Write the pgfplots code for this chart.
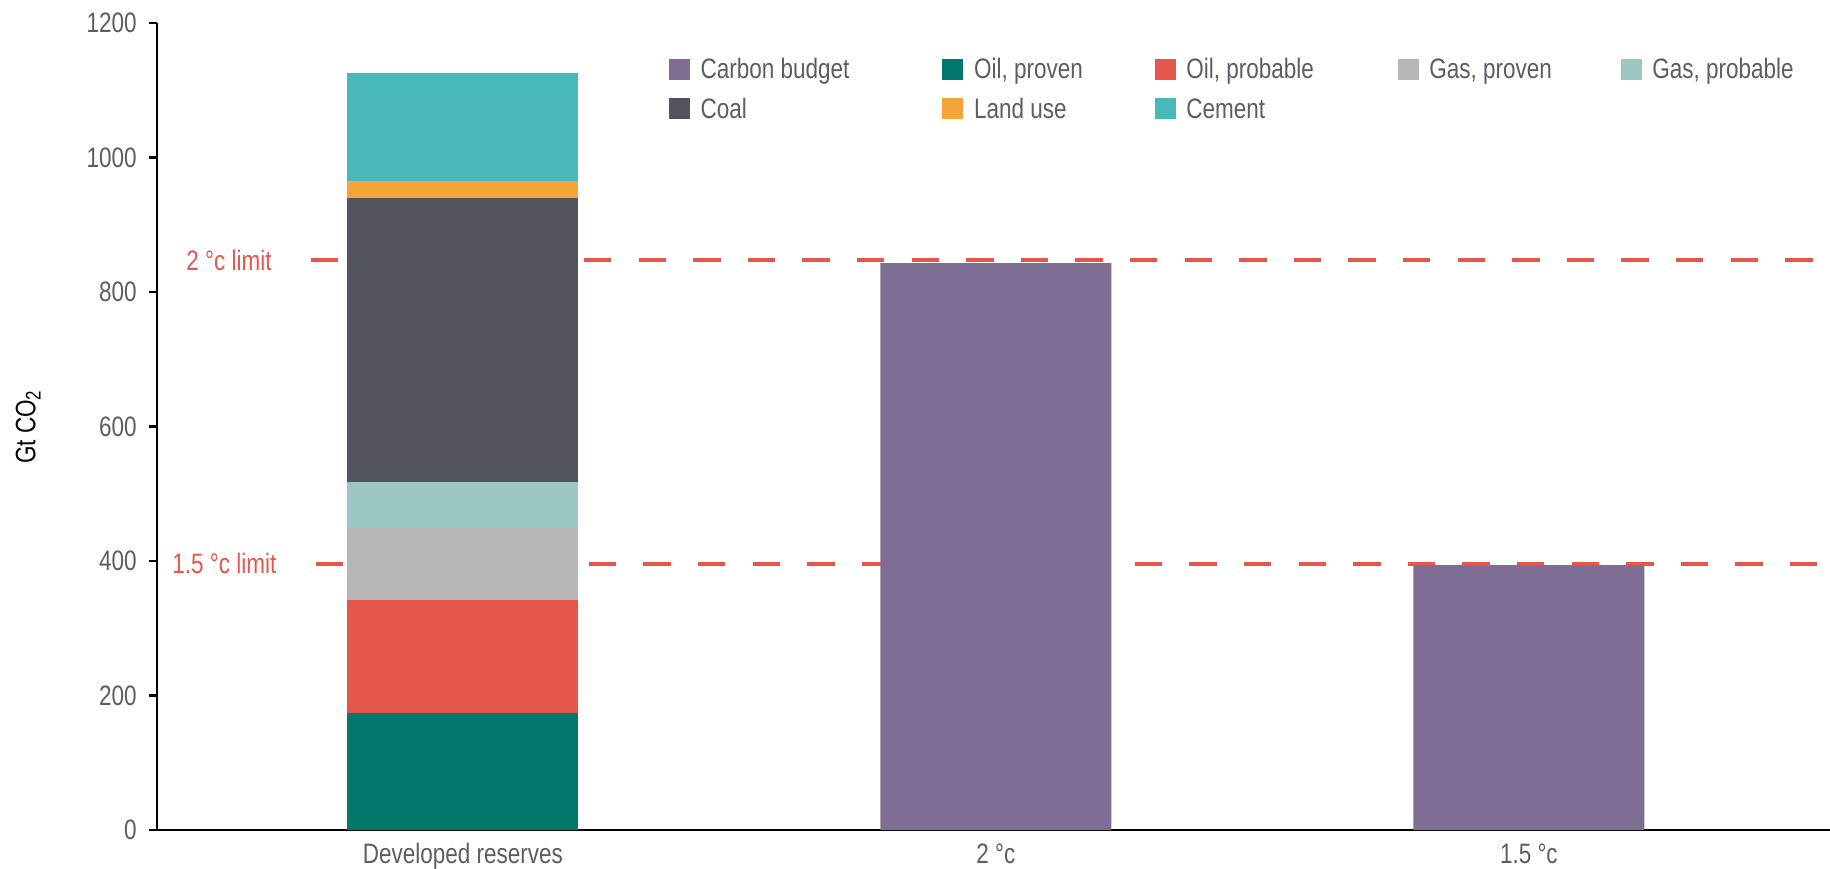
\documentclass[border=0pt]{standalone}
\usepackage{fontspec}
\setmainfont{Liberation Sans}[FakeStretch=0.8]
\usepackage{pgfplots}
\pgfplotsset{compat=1.18}

\definecolor{cbudget}{HTML}{7E6E93}
\definecolor{oilprov}{HTML}{02786A}
\definecolor{oilprob}{HTML}{E4574A}
\definecolor{gasprov}{HTML}{B5B6B8}
\definecolor{gasprob}{HTML}{9CC8C2}
\definecolor{coal}{HTML}{52555E}
\definecolor{landuse}{HTML}{F5A43A}
\definecolor{cement}{HTML}{47B9B8}
\definecolor{limred}{HTML}{E4574A}
\definecolor{txtgray}{HTML}{5A5D66}

\begin{document}
\begin{tikzpicture}[font=\fontsize{8}{9.6}\selectfont]
\useasboundingbox (0,0) rectangle (18.3,8.68);
\begin{axis}[
  at={(1.57cm,0.38cm)}, anchor=south west,
  scale only axis,
  width=16.73cm, height=8.07cm,
  ybar stacked,
  bar width=2.31cm,
  xmin=-0.574, xmax=2.565,
  ymin=0, ymax=1200,
  axis lines=left,
  axis line style={-, black},
  x axis line style={line width=0.8pt},
  y axis line style={line width=0.6pt},
  ytick={0,200,...,1200},
  tick align=outside,
  major tick length=0.08cm,
  ytick style={black, line width=0.6pt},
  xtick={0,1,2},
  xticklabels={Developed reserves, 2 °c, 1.5 °c},
  xtick style={draw=none},
  /pgf/number format/assume math mode=true,
  /pgf/number format/set thousands separator={},
  tick label style={text=txtgray},
  xticklabel style={yshift=0.07cm},
  ylabel={Gt CO\textsubscript{2}},
  ylabel style={text=txtgray},
  every axis y label/.style={at={(axis description cs:-0.077,0.5)}, rotate=90, anchor=center},
  clip=false,
  legend columns=5,
  legend cell align=left,
  legend image code/.code={\fill[#1] (0cm,-0.085cm) rectangle (0.21cm,0.125cm);},
  legend style={
    at={(axis description cs:0.306,0.959)}, anchor=north west,
    draw=none, fill=none, inner sep=0pt, outer sep=0pt,
    text=txtgray,
    row sep=0.095cm,
    nodes={inner sep=0.5pt, text height=6pt, text depth=1.5pt},
    /tikz/every odd column/.append style={column sep=0.09cm},
    /tikz/column 7/.append style={column sep=0.13cm},
    /tikz/column 9/.append style={column sep=0.18cm},
    /tikz/column 2/.append style={column sep=0.91cm},
    /tikz/column 4/.append style={column sep=0.70cm},
    /tikz/column 6/.append style={column sep=0.82cm},
    /tikz/column 8/.append style={column sep=0.67cm},
  },
]
\addplot[fill=cbudget, draw=none] coordinates {(0,0) (1,843) (2,394)};
\addplot[fill=oilprov, draw=none] coordinates {(0,174) (1,0) (2,0)};
\addplot[fill=oilprob, draw=none] coordinates {(0,168) (1,0) (2,0)};
\addplot[fill=gasprov, draw=none] coordinates {(0,107) (1,0) (2,0)};
\addplot[fill=gasprob, draw=none] coordinates {(0,68) (1,0) (2,0)};
\addplot[fill=coal, draw=none] coordinates {(0,423) (1,0) (2,0)};
\addplot[fill=landuse, draw=none] coordinates {(0,25) (1,0) (2,0)};
\addplot[fill=cement, draw=none] coordinates {(0,161) (1,0) (2,0)};
\legend{Carbon budget, {Oil, proven}, {Oil, probable}, {Gas, proven}, {Gas, probable}, Coal, Land use, Cement}

% limit lines
\addplot[sharp plot, stack plots=false, forget plot, draw=limred, line width=1.1pt,
  dash pattern=on 0.273cm off 0.273cm] coordinates {(-0.285,847) (2.565,847)};
\addplot[sharp plot, stack plots=false, forget plot, draw=limred, line width=1.1pt,
  dash pattern=on 0.273cm off 0.273cm] coordinates {(-0.276,396) (2.565,396)};
\node[anchor=east, text=limred, xshift=-0.27cm] at (axis cs:-0.285,847) {2 °c limit};
\node[anchor=east, text=limred, xshift=-0.27cm] at (axis cs:-0.276,396) {1.5 °c limit};
\end{axis}
\end{tikzpicture}
\end{document}
